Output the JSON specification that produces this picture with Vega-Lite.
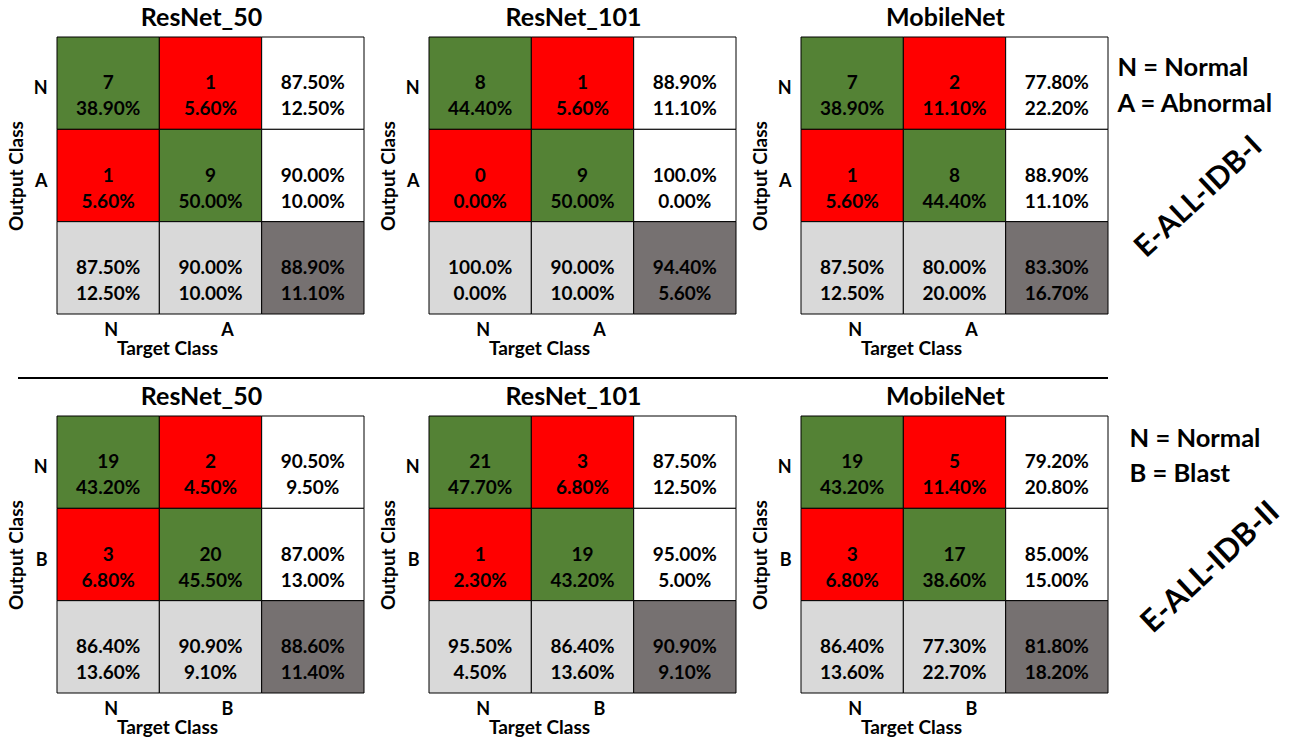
{
  "$schema": "https://vega.github.io/schema/vega-lite/v6.json",
  "padding": {"left": 7, "top": 5, "right": 0, "bottom": 0},
  "background": "white",
  "datasets": {
    "cells": [
      {"p":"A1","r":"N","c":"N","k":"correct","t":"7\n38.90%"},
      {"p":"A1","r":"N","c":"A","k":"error","t":"1\n5.60%"},
      {"p":"A1","r":"N","c":"Σ","k":"rowTotal","t":"87.50%\n12.50%"},
      {"p":"A1","r":"A","c":"N","k":"error","t":"1\n5.60%"},
      {"p":"A1","r":"A","c":"A","k":"correct","t":"9\n50.00%"},
      {"p":"A1","r":"A","c":"Σ","k":"rowTotal","t":"90.00%\n10.00%"},
      {"p":"A1","r":"Σ","c":"N","k":"colTotal","t":"87.50%\n12.50%"},
      {"p":"A1","r":"Σ","c":"A","k":"colTotal","t":"90.00%\n10.00%"},
      {"p":"A1","r":"Σ","c":"Σ","k":"overall","t":"88.90%\n11.10%"},

      {"p":"A2","r":"N","c":"N","k":"correct","t":"8\n44.40%"},
      {"p":"A2","r":"N","c":"A","k":"error","t":"1\n5.60%"},
      {"p":"A2","r":"N","c":"Σ","k":"rowTotal","t":"88.90%\n11.10%"},
      {"p":"A2","r":"A","c":"N","k":"error","t":"0\n0.00%"},
      {"p":"A2","r":"A","c":"A","k":"correct","t":"9\n50.00%"},
      {"p":"A2","r":"A","c":"Σ","k":"rowTotal","t":"100.0%\n0.00%"},
      {"p":"A2","r":"Σ","c":"N","k":"colTotal","t":"100.0%\n0.00%"},
      {"p":"A2","r":"Σ","c":"A","k":"colTotal","t":"90.00%\n10.00%"},
      {"p":"A2","r":"Σ","c":"Σ","k":"overall","t":"94.40%\n5.60%"},

      {"p":"A3","r":"N","c":"N","k":"correct","t":"7\n38.90%"},
      {"p":"A3","r":"N","c":"A","k":"error","t":"2\n11.10%"},
      {"p":"A3","r":"N","c":"Σ","k":"rowTotal","t":"77.80%\n22.20%"},
      {"p":"A3","r":"A","c":"N","k":"error","t":"1\n5.60%"},
      {"p":"A3","r":"A","c":"A","k":"correct","t":"8\n44.40%"},
      {"p":"A3","r":"A","c":"Σ","k":"rowTotal","t":"88.90%\n11.10%"},
      {"p":"A3","r":"Σ","c":"N","k":"colTotal","t":"87.50%\n12.50%"},
      {"p":"A3","r":"Σ","c":"A","k":"colTotal","t":"80.00%\n20.00%"},
      {"p":"A3","r":"Σ","c":"Σ","k":"overall","t":"83.30%\n16.70%"},

      {"p":"B1","r":"N","c":"N","k":"correct","t":"19\n43.20%"},
      {"p":"B1","r":"N","c":"B","k":"error","t":"2\n4.50%"},
      {"p":"B1","r":"N","c":"Σ","k":"rowTotal","t":"90.50%\n9.50%"},
      {"p":"B1","r":"B","c":"N","k":"error","t":"3\n6.80%"},
      {"p":"B1","r":"B","c":"B","k":"correct","t":"20\n45.50%"},
      {"p":"B1","r":"B","c":"Σ","k":"rowTotal","t":"87.00%\n13.00%"},
      {"p":"B1","r":"Σ","c":"N","k":"colTotal","t":"86.40%\n13.60%"},
      {"p":"B1","r":"Σ","c":"B","k":"colTotal","t":"90.90%\n9.10%"},
      {"p":"B1","r":"Σ","c":"Σ","k":"overall","t":"88.60%\n11.40%"},

      {"p":"B2","r":"N","c":"N","k":"correct","t":"21\n47.70%"},
      {"p":"B2","r":"N","c":"B","k":"error","t":"3\n6.80%"},
      {"p":"B2","r":"N","c":"Σ","k":"rowTotal","t":"87.50%\n12.50%"},
      {"p":"B2","r":"B","c":"N","k":"error","t":"1\n2.30%"},
      {"p":"B2","r":"B","c":"B","k":"correct","t":"19\n43.20%"},
      {"p":"B2","r":"B","c":"Σ","k":"rowTotal","t":"95.00%\n5.00%"},
      {"p":"B2","r":"Σ","c":"N","k":"colTotal","t":"95.50%\n4.50%"},
      {"p":"B2","r":"Σ","c":"B","k":"colTotal","t":"86.40%\n13.60%"},
      {"p":"B2","r":"Σ","c":"Σ","k":"overall","t":"90.90%\n9.10%"},

      {"p":"B3","r":"N","c":"N","k":"correct","t":"19\n43.20%"},
      {"p":"B3","r":"N","c":"B","k":"error","t":"5\n11.40%"},
      {"p":"B3","r":"N","c":"Σ","k":"rowTotal","t":"79.20%\n20.80%"},
      {"p":"B3","r":"B","c":"N","k":"error","t":"3\n6.80%"},
      {"p":"B3","r":"B","c":"B","k":"correct","t":"17\n38.60%"},
      {"p":"B3","r":"B","c":"Σ","k":"rowTotal","t":"85.00%\n15.00%"},
      {"p":"B3","r":"Σ","c":"N","k":"colTotal","t":"86.40%\n13.60%"},
      {"p":"B3","r":"Σ","c":"B","k":"colTotal","t":"77.30%\n22.70%"},
      {"p":"B3","r":"Σ","c":"Σ","k":"overall","t":"81.80%\n18.20%"}
    ]
  },
  "spacing": 0,
  "vconcat": [
    {
      "spacing": 5,
      "hconcat": [
        {
          "spacing": 14,
          "hconcat": [
            {
              "width": 307, "height": 277,
              "title": {"text": "ResNet_50"},
              "data": {"name": "cells"},
              "transform": [{"filter": "datum.p == 'A1'"}],
              "encoding": {
                "x": {"field": "c", "type": "nominal", "sort": ["N","A","Σ"], "scale": {"paddingInner": 0, "paddingOuter": 0}, "axis": {"title": "Target Class"}},
                "y": {"field": "r", "type": "nominal", "sort": ["N","A","Σ"], "scale": {"paddingInner": 0, "paddingOuter": 0}, "axis": {"title": "Output Class"}}
              },
              "layer": [
                {"mark": {"type": "rect", "stroke": "black", "strokeWidth": 1}, "encoding": {"fill": {"field": "k", "type": "nominal", "scale": {"domain": ["correct","error","rowTotal","colTotal","overall"], "range": ["#548235","#FF0000","#FFFFFF","#D9D9D9","#767171"]}, "legend": null}}},
                {"mark": {"type": "text"}, "encoding": {"text": {"field": "t"}}}
              ]
            },
            {
              "width": 307, "height": 277,
              "title": {"text": "ResNet_101"},
              "data": {"name": "cells"},
              "transform": [{"filter": "datum.p == 'A2'"}],
              "encoding": {
                "x": {"field": "c", "type": "nominal", "sort": ["N","A","Σ"], "scale": {"paddingInner": 0, "paddingOuter": 0}, "axis": {"title": "Target Class"}},
                "y": {"field": "r", "type": "nominal", "sort": ["N","A","Σ"], "scale": {"paddingInner": 0, "paddingOuter": 0}, "axis": {"title": "Output Class"}}
              },
              "layer": [
                {"mark": {"type": "rect", "stroke": "black", "strokeWidth": 1}, "encoding": {"fill": {"field": "k", "type": "nominal", "scale": {"domain": ["correct","error","rowTotal","colTotal","overall"], "range": ["#548235","#FF0000","#FFFFFF","#D9D9D9","#767171"]}, "legend": null}}},
                {"mark": {"type": "text"}, "encoding": {"text": {"field": "t"}}}
              ]
            },
            {
              "width": 307, "height": 277,
              "title": {"text": "MobileNet"},
              "data": {"name": "cells"},
              "transform": [{"filter": "datum.p == 'A3'"}],
              "encoding": {
                "x": {"field": "c", "type": "nominal", "sort": ["N","A","Σ"], "scale": {"paddingInner": 0, "paddingOuter": 0}, "axis": {"title": "Target Class"}},
                "y": {"field": "r", "type": "nominal", "sort": ["N","A","Σ"], "scale": {"paddingInner": 0, "paddingOuter": 0}, "axis": {"title": "Output Class"}}
              },
              "layer": [
                {"mark": {"type": "rect", "stroke": "black", "strokeWidth": 1}, "encoding": {"fill": {"field": "k", "type": "nominal", "scale": {"domain": ["correct","error","rowTotal","colTotal","overall"], "range": ["#548235","#FF0000","#FFFFFF","#D9D9D9","#767171"]}, "legend": null}}},
                {"mark": {"type": "text"}, "encoding": {"text": {"field": "t"}}}
              ]
            }
          ]
        },
        {
          "width": 173, "height": 277,
          "data": {"values": [{}]},
          "layer": [
            {"mark": {"type": "text", "text": "N = Normal", "fontSize": 25.5, "align": "left"},
             "encoding": {"x": {"datum": 0.02, "type": "quantitative", "scale": {"domain": [0,1]}, "axis": null}, "y": {"datum": 0.112, "type": "quantitative", "scale": {"domain": [0,1], "reverse": true}, "axis": null}}},
            {"mark": {"type": "text", "text": "A = Abnormal", "fontSize": 25.5, "align": "left"},
             "encoding": {"x": {"datum": 0.02, "type": "quantitative", "scale": {"domain": [0,1]}, "axis": null}, "y": {"datum": 0.242, "type": "quantitative", "scale": {"domain": [0,1], "reverse": true}, "axis": null}}},
            {"mark": {"type": "text", "text": "E-ALL-IDB-I", "fontSize": 30, "angle": 317},
             "encoding": {"x": {"datum": 0.49, "type": "quantitative", "scale": {"domain": [0,1]}, "axis": null}, "y": {"datum": 0.578, "type": "quantitative", "scale": {"domain": [0,1], "reverse": true}, "axis": null}}}
          ]
        }
      ]
    },
    {
      "width": 1051, "height": 26,
      "data": {"values": [{}]},
      "mark": {"type": "rule", "strokeWidth": 2, "color": "black"},
      "encoding": {
        "x": {"datum": -0.0371, "type": "quantitative", "scale": {"domain": [0,1]}, "axis": null},
        "x2": {"datum": 1},
        "y": {"datum": 0.231, "type": "quantitative", "scale": {"domain": [0,1]}, "axis": null}
      }
    },
    {
      "spacing": 5,
      "hconcat": [
        {
          "spacing": 14,
          "hconcat": [
            {
              "width": 307, "height": 277,
              "title": {"text": "ResNet_50"},
              "data": {"name": "cells"},
              "transform": [{"filter": "datum.p == 'B1'"}],
              "encoding": {
                "x": {"field": "c", "type": "nominal", "sort": ["N","B","Σ"], "scale": {"paddingInner": 0, "paddingOuter": 0}, "axis": {"title": "Target Class"}},
                "y": {"field": "r", "type": "nominal", "sort": ["N","B","Σ"], "scale": {"paddingInner": 0, "paddingOuter": 0}, "axis": {"title": "Output Class"}}
              },
              "layer": [
                {"mark": {"type": "rect", "stroke": "black", "strokeWidth": 1}, "encoding": {"fill": {"field": "k", "type": "nominal", "scale": {"domain": ["correct","error","rowTotal","colTotal","overall"], "range": ["#548235","#FF0000","#FFFFFF","#D9D9D9","#767171"]}, "legend": null}}},
                {"mark": {"type": "text"}, "encoding": {"text": {"field": "t"}}}
              ]
            },
            {
              "width": 307, "height": 277,
              "title": {"text": "ResNet_101"},
              "data": {"name": "cells"},
              "transform": [{"filter": "datum.p == 'B2'"}],
              "encoding": {
                "x": {"field": "c", "type": "nominal", "sort": ["N","B","Σ"], "scale": {"paddingInner": 0, "paddingOuter": 0}, "axis": {"title": "Target Class"}},
                "y": {"field": "r", "type": "nominal", "sort": ["N","B","Σ"], "scale": {"paddingInner": 0, "paddingOuter": 0}, "axis": {"title": "Output Class"}}
              },
              "layer": [
                {"mark": {"type": "rect", "stroke": "black", "strokeWidth": 1}, "encoding": {"fill": {"field": "k", "type": "nominal", "scale": {"domain": ["correct","error","rowTotal","colTotal","overall"], "range": ["#548235","#FF0000","#FFFFFF","#D9D9D9","#767171"]}, "legend": null}}},
                {"mark": {"type": "text"}, "encoding": {"text": {"field": "t"}}}
              ]
            },
            {
              "width": 307, "height": 277,
              "title": {"text": "MobileNet"},
              "data": {"name": "cells"},
              "transform": [{"filter": "datum.p == 'B3'"}],
              "encoding": {
                "x": {"field": "c", "type": "nominal", "sort": ["N","B","Σ"], "scale": {"paddingInner": 0, "paddingOuter": 0}, "axis": {"title": "Target Class"}},
                "y": {"field": "r", "type": "nominal", "sort": ["N","B","Σ"], "scale": {"paddingInner": 0, "paddingOuter": 0}, "axis": {"title": "Output Class"}}
              },
              "layer": [
                {"mark": {"type": "rect", "stroke": "black", "strokeWidth": 1}, "encoding": {"fill": {"field": "k", "type": "nominal", "scale": {"domain": ["correct","error","rowTotal","colTotal","overall"], "range": ["#548235","#FF0000","#FFFFFF","#D9D9D9","#767171"]}, "legend": null}}},
                {"mark": {"type": "text"}, "encoding": {"text": {"field": "t"}}}
              ]
            }
          ]
        },
        {
          "width": 173, "height": 277,
          "data": {"values": [{}]},
          "layer": [
            {"mark": {"type": "text", "text": "N = Normal", "fontSize": 25.5, "align": "left"},
             "encoding": {"x": {"datum": 0.09, "type": "quantitative", "scale": {"domain": [0,1]}, "axis": null}, "y": {"datum": 0.083, "type": "quantitative", "scale": {"domain": [0,1], "reverse": true}, "axis": null}}},
            {"mark": {"type": "text", "text": "B = Blast", "fontSize": 25.5, "align": "left"},
             "encoding": {"x": {"datum": 0.09, "type": "quantitative", "scale": {"domain": [0,1]}, "axis": null}, "y": {"datum": 0.209, "type": "quantitative", "scale": {"domain": [0,1], "reverse": true}, "axis": null}}},
            {"mark": {"type": "text", "text": "E-ALL-IDB-II", "fontSize": 31, "angle": 317},
             "encoding": {"x": {"datum": 0.56, "type": "quantitative", "scale": {"domain": [0,1]}, "axis": null}, "y": {"datum": 0.548, "type": "quantitative", "scale": {"domain": [0,1], "reverse": true}, "axis": null}}}
          ]
        }
      ]
    }
  ],
  "config": {
    "font": "Lato",
    "view": {"stroke": null},
    "axis": {
      "domain": false, "ticks": false, "grid": false,
      "labelFont": "Lato", "labelFontWeight": "bold", "labelFontSize": 18, "labelColor": "black",
      "titleFont": "Lato", "titleFontWeight": "bold", "titleFontSize": 19, "titleColor": "black",
      "labelExpr": "datum.value == 'Σ' ? '' : datum.value"
    },
    "axisX": {
      "labelAngle": 0, "labelPadding": 7, "titlePadding": 0, "titleX": 110, "titleAlign": "center",
      "labelOffset": {"condition": {"test": "datum.value == 'A' || datum.value == 'B'", "value": 17}, "value": 3}
    },
    "axisY": {"labelPadding": 10, "titlePadding": 7, "labelOffset": 6},
    "title": {"font": "Lato", "fontSize": 25, "fontWeight": "bold", "color": "black", "offset": 6, "anchor": "middle", "frame": "group", "dx": -9},
    "text": {"font": "Lato", "fontWeight": "bold", "fontSize": 19, "lineBreak": "\n", "lineHeight": 26, "color": "black"}
  }
}
